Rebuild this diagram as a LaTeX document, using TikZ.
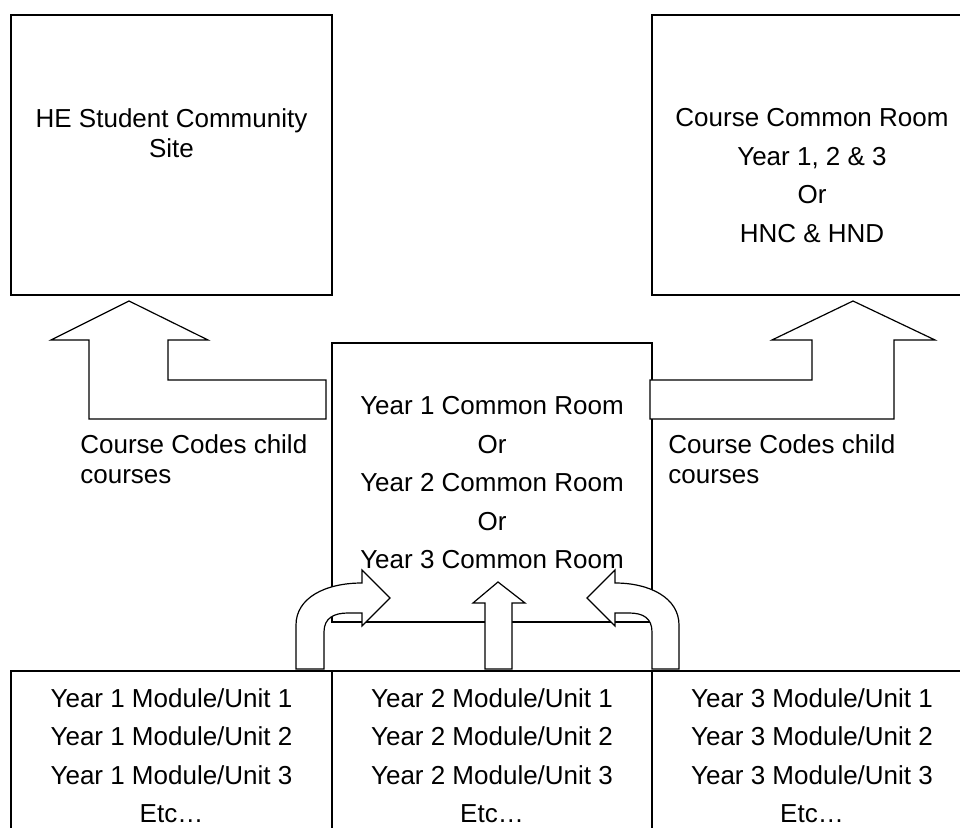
\documentclass[tikz,border=0pt]{standalone}
\usepackage{fontspec}
\setmainfont{Liberation Sans}
\usetikzlibrary{positioning}

\begin{document}
\begin{tikzpicture}[x=0.5pt,y=-0.5pt,
  box/.style={draw,line width=0.85pt,rectangle,inner sep=0pt,outer sep=0pt,anchor=north west},
  box text/.style={inner sep=0pt,align=center,font=\fontsize{13}{19.25}\selectfont},
  tight text/.style={inner sep=0pt,align=center,font=\fontsize{13}{15}\selectfont},
  block arrow/.style={draw,fill=white,line width=0.6pt,line join=miter}]

 \clip (0,0) rectangle (960,828);

 % top row
 \node[box,minimum width=160.5pt,minimum height=140pt] (hesite) at (11,15) {};
 \node[box,minimum width=160pt,minimum height=140pt] (course) at (652,15) {};
 % middle
 \node[box,minimum width=160pt,minimum height=139.5pt] (yearroom) at (332,343) {};
 % bottom row
 \node[box,minimum width=160.5pt,minimum height=85pt] (mod1) at (11,671) {};
 \node[box,minimum width=160pt,minimum height=85pt] (mod2) at (332,671) {};
 \node[box,minimum width=160pt,minimum height=85pt] (mod3) at (652,671) {};

 \node[tight text,below=46.5pt of hesite.north] (hetext) {HE Student Community\\Site};
 \node[box text,below=46.5pt of course.north] (coursetext) {Course Common Room\\Year 1, 2 \& 3\\Or\\HNC \& HND};
 \node[box text,below=26.5pt of yearroom.north] (yeartext) {Year 1 Common Room\\Or\\Year 2 Common Room\\Or\\Year 3 Common Room};
 \node[box text,below=8.5pt of mod1.north] (mod1text) {Year 1 Module/Unit 1\\Year 1 Module/Unit 2\\Year 1 Module/Unit 3\\Etc…};
 \node[box text,below=8.5pt of mod2.north] (mod2text) {Year 2 Module/Unit 1\\Year 2 Module/Unit 2\\Year 2 Module/Unit 3\\Etc…};
 \node[box text,below=8.5pt of mod3.north] (mod3text) {Year 3 Module/Unit 1\\Year 3 Module/Unit 2\\Year 3 Module/Unit 3\\Etc…};

 \node[tight text,align=left,anchor=north west] (leftcodes) at (80,434) {Course Codes child\\courses};
 \node[tight text,align=left,anchor=north west] (rightcodes) at (668,434) {Course Codes child\\courses};

 % block arrows
 \draw[block arrow] (129,301) -- (208,340) -- (168,340) -- (168,380) -- (326,380) -- (326,419)
    -- (89,419) -- (89,340) -- (51,340) -- cycle;
 \draw[block arrow] (853,301) -- (935,340) -- (894,340) -- (894,419) -- (650,419) -- (650,380)
    -- (812,380) -- (812,340) -- (772,340) -- cycle;

 \draw[block arrow] (296,669) -- (296,625) .. controls (296,598) and (325,583) .. (362,583)
    -- (362,570) -- (390,598) -- (362,626) -- (362,613) -- (348,613)
    .. controls (334,613) and (324,618) .. (324,632) -- (324,669) -- cycle;
 \draw[block arrow] (485,669) -- (485,603) -- (473,603) -- (498,582) -- (525,603) -- (512,603)
    -- (512,669) -- cycle;
 \draw[block arrow] (679,669) -- (679,625) .. controls (679,598) and (650,583) .. (615,583)
    -- (615,570) -- (587,598) -- (615,626) -- (615,613) -- (629,613)
    .. controls (643,613) and (652,618) .. (652,632) -- (652,669) -- cycle;

\end{tikzpicture}
\end{document}
